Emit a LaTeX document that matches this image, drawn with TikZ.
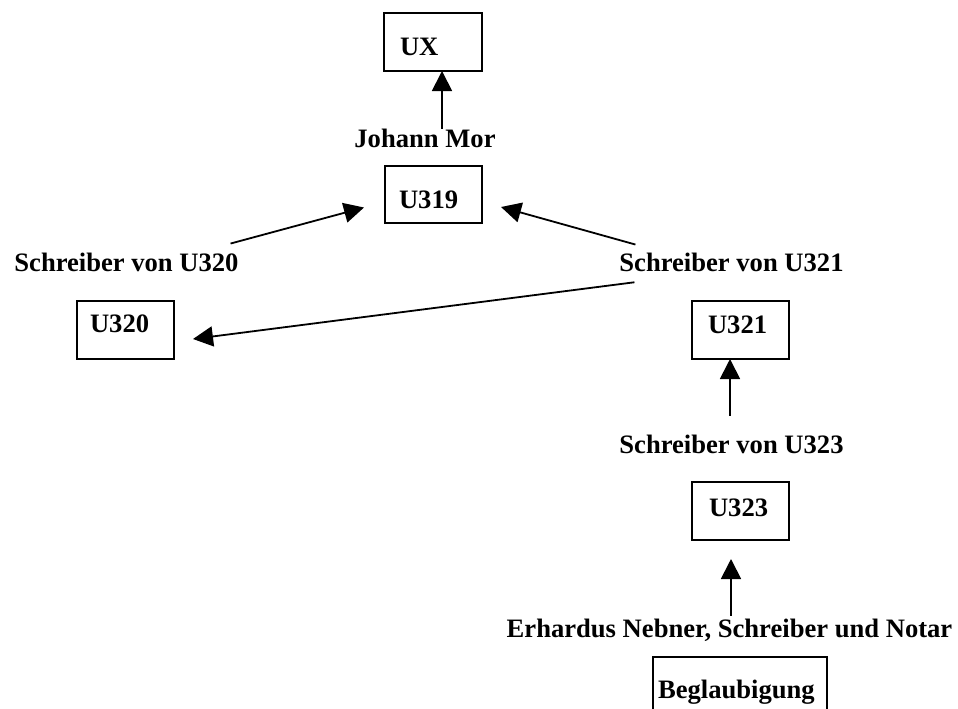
\documentclass[tikz,border=0pt]{standalone}
\usepackage{fontspec}
\setmainfont{Liberation Serif}
\usetikzlibrary{arrows.meta,calc}
\begin{document}
\begin{tikzpicture}[x=1pt,y=-1pt,
  box/.style={draw,line width=1.8pt,inner sep=0pt,outer sep=0pt},
  lbl/.style={inner sep=0pt,outer sep=0pt,font=\fontsize{26.6}{30}\selectfont\bfseries},
  arr/.style={line width=1.8pt,-{Triangle[length=20pt,width=20pt]}}]
\useasboundingbox (0,0) rectangle (958,709);
\clip (0,0) rectangle (958,709);
% boxes
\node[box,minimum width=98pt,minimum height=58pt] (ux) at (433,42) {};
\node[box,minimum width=97pt,minimum height=57pt] (u319) at (433.5,194.5) {};
\node[box,minimum width=97pt,minimum height=58pt] (u320) at (125.5,330) {};
\node[box,minimum width=97pt,minimum height=58pt] (u321) at (740.5,330) {};
\node[box,minimum width=97pt,minimum height=58pt] (u323) at (740.5,511) {};
\node[box,minimum width=174pt,minimum height=56pt] (beg) at (740,685) {};
% box labels
\node[lbl,anchor=base west] (tux) at (400,56) {UX};
\node[lbl,anchor=base west] (t319) at (399,208) {U319};
\node[lbl,anchor=base west] (t320) at (90,332) {U320};
\node[lbl,anchor=base west] (t321) at (708,333) {U321};
\node[lbl,anchor=base west] (t323) at (709,516) {U323};
\node[lbl,anchor=base west] (tbeg) at (658,698) {Beglaubigung};
% free labels
\node[lbl,anchor=base] (jm) at (425,147) {Johann Mor};
\node[lbl,anchor=base] (s320) at (126.5,271) {Schreiber von U320};
\node[lbl,anchor=base] (s321) at (731.5,271) {Schreiber von U321};
\node[lbl,anchor=base] (s323) at (731.5,453) {Schreiber von U323};
\node[lbl,anchor=base] (en) at (729.5,637) {Erhardus Nebner, Schreiber und Notar};
% connectors
\draw[arr] ([xshift=17pt]jm.north) -- ([xshift=17pt]jm.north |- ux.south);
\draw[arr] ($(s320.north east)+(-8,-9)$) -- ($(u319.west)+(-21,13)$);
\draw[arr] ($(s321.north west)+(16,-8)$) -- ($(u319.east)+(19,12.5)$);
\draw[arr] ($(s321.south west)+(15,11)$) -- ($(u320.east)+(19,9)$);
\draw[arr] ($(s323.north)+(-1.5,-19)$) -- ($(s323.north |- u321.south)+(-1.5,0)$);
\draw[arr] ($(en.north)+(1.5,-3)$) -- ($(en.north |- u323.south)+(1.5,19)$);
\end{tikzpicture}
\end{document}
